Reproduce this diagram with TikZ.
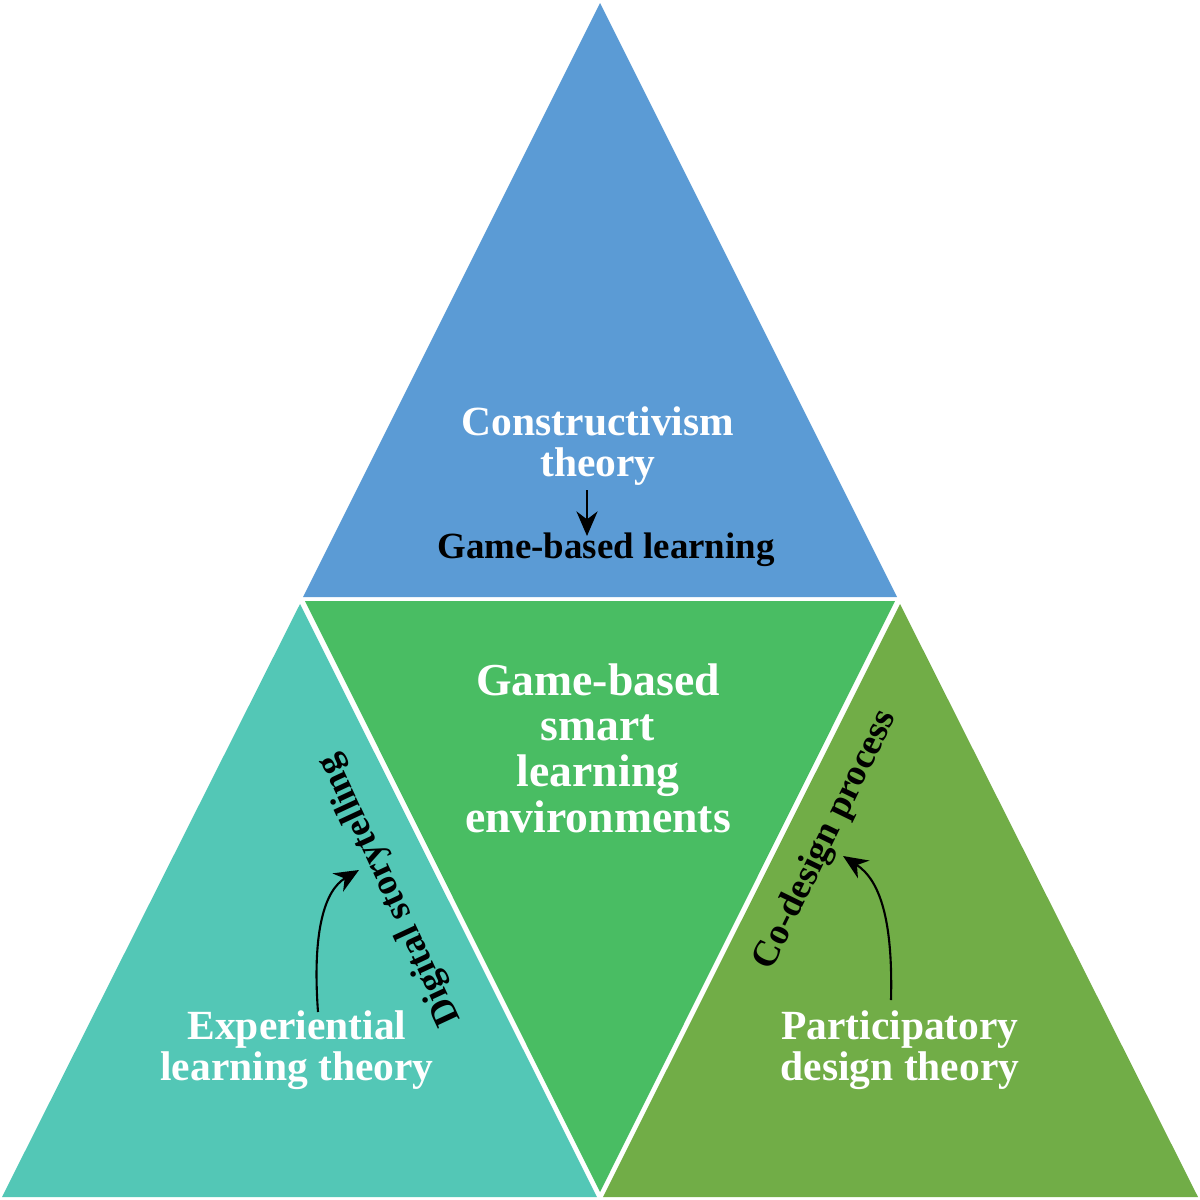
\documentclass[tikz,border=0pt]{standalone}
\usepackage{fontspec}
\setmainfont{Liberation Serif}
\usetikzlibrary{arrows.meta}
\definecolor{cblue}{HTML}{5B9BD5}
\definecolor{cteal}{HTML}{53C7B6}
\definecolor{cgreen}{HTML}{49BD63}
\definecolor{colive}{HTML}{71AD47}
\tikzset{
  wlab/.style={text=white,font=\bfseries\fontsize{#1}{#1*1.12}\selectfont,align=center,inner sep=0pt},
  blab/.style={text=black,font=\bfseries\fontsize{#1}{#1*1.12}\selectfont,align=center,inner sep=0pt},
  arr/.style={-{Stealth[length=7pt,width=6pt]},line width=0.6pt}
}
\begin{document}
\begin{tikzpicture}[x=0.01cm,y=-0.01cm]
\useasboundingbox (0,0) rectangle (1200,1200);
\fill[white] (0,0) rectangle (1200,1200);
\fill[cblue] (600,3) -- (897,597) -- (303,597) -- cycle;
\fill[cteal] (300,604) -- (597,1197) -- (2,1197) -- cycle;
\fill[cgreen] (305,601) -- (895,601) -- (600,1192) -- cycle;
\fill[colive] (900,604) -- (1198,1197) -- (603,1197) -- cycle;

\node[wlab=11.8pt] (con) at (598,446) {Constructivism\\theory};
\node[blab=10.5pt] (gbl) at (606,550) {Game-based learning};
\coordinate (a1) at (587,490);
\coordinate (a2) at (587,536);
\draw[arr] (a1) -- (a2);

\node[wlab=13pt] (mid) at (598,748) {Game-based\\smart\\learning\\environments};

\node[wlab=11.8pt] (exp) at (297,1050) {Experiential\\learning theory};
\node[wlab=11.8pt] (par) at (900,1050) {Participatory\\design theory};

\node[blab=10.5pt,rotate=115] (dst) at (390,890) {Digital storytelling};
\node[blab=10.5pt,rotate=64] (cod) at (826,840) {Co-design process};

\coordinate (l1) at (318,1012);
\coordinate (l2) at (359,870);
\draw[arr] (l1) .. controls (312,930) and (325,890) .. (l2);
\coordinate (r1) at (891,1000);
\coordinate (r2) at (843,856);
\draw[arr] (r1) .. controls (893,920) and (880,880) .. (r2);
\end{tikzpicture}
\end{document}
